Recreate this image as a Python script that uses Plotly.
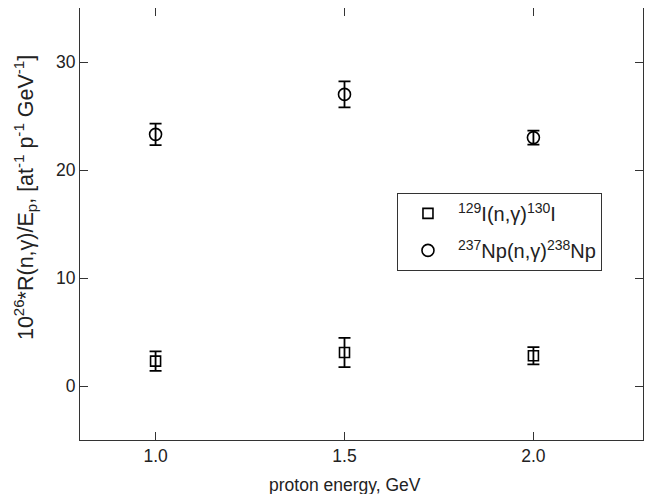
import plotly.graph_objects as go

energy = [1.0, 1.5, 2.0]
iodine_vals = [2.3, 3.1, 2.8]
iodine_err = [0.9, 1.35, 0.8]
np_vals = [23.3, 27.0, 23.0]
np_err = [1.0, 1.2, 0.65]

x_ticks = [1.0, 1.5, 2.0]
x_tick_labels = ["1.0", "1.5", "2.0"]
y_ticks = [0, 10, 20, 30]

FONT = "Liberation Sans, Arial, Helvetica, sans-serif"
INK = "#222222"

fig = go.Figure()
fig.add_trace(go.Scatter(
    x=energy, y=iodine_vals, mode="markers", legendgroup="i",
    name="<sup>129</sup>I(n,γ)<sup>130</sup>I",
    marker=dict(symbol="square-open", size=10, color="black", line=dict(width=1.6)),
    error_y=dict(type="data", array=iodine_err, visible=True, color="black", thickness=1.8, width=6),
))
fig.add_trace(go.Scatter(
    x=energy, y=np_vals, mode="markers", legendgroup="np",
    name="<sup>237</sup>Np(n,γ)<sup>238</sup>Np",
    marker=dict(symbol="circle-open", size=12, color="black", line=dict(width=1.6)),
    error_y=dict(type="data", array=np_err, visible=True, color="black", thickness=1.8, width=6),
))

axis_common = dict(
    showline=True, linecolor="#333333", linewidth=1.2, mirror="ticks",
    ticks="inside", ticklen=8, tickwidth=1.2, tickcolor="#333333",
    showgrid=False, zeroline=False,
    tickfont=dict(family=FONT, size=17.5, color=INK),
)

fig.update_layout(
    width=647, height=486,
    margin=dict(l=72, r=12, t=0, b=54),
    paper_bgcolor="white", plot_bgcolor="white",
    font=dict(family=FONT, size=17.5, color=INK),
    xaxis=dict(range=[0.8, 2.29], tickvals=x_ticks, ticktext=x_tick_labels, **axis_common),
    yaxis=dict(range=[-5, 35], tickvals=y_ticks, **axis_common),
    showlegend=True,
    legend=dict(x=0.563, y=0.572, xanchor="left", yanchor="top",
                bordercolor="#333333", borderwidth=1, bgcolor="white",
                font=dict(family=FONT, size=20, color=INK),
                itemwidth=50, tracegroupgap=8),
)
fig.add_annotation(text="proton energy, GeV", x=1.5, xref="x", y=0, yref="paper",
                   yshift=-45, yanchor="middle", showarrow=False,
                   font=dict(family=FONT, size=17.5, color=INK))
fig.add_annotation(text="10<sup>26</sup>*R(n,γ)/E<sub>p</sub>, [at<sup>-1</sup> p<sup>-1</sup> GeV<sup>-1</sup>]",
                   x=0, xref="paper", xshift=-55, xanchor="center",
                   y=0.56, yref="paper", yanchor="middle",
                   textangle=-90, showarrow=False,
                   font=dict(family=FONT, size=21.5, color=INK))

fig.write_html("out.html")
